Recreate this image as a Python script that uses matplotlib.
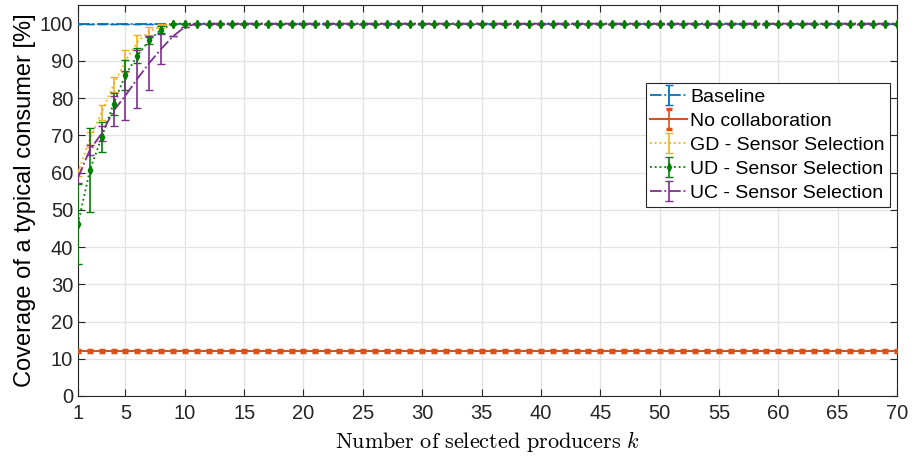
import matplotlib.pyplot as plt
import numpy as np

plt.rcParams['font.family'] = ['Liberation Sans', 'DejaVu Sans']
plt.rcParams['mathtext.fontset'] = 'cm'

k = np.arange(1, 71)

baseline = [100.0] * 70
no_collab = [12.0] * 70
no_collab_err = [0.3] * 70

gd_mean = [60.0, 69.0, 76.2, 83.6, 90.0, 95.0, 98.0, 99.3] + [100.0] * 62
gd_err = [1.0, 2.0, 2.0, 2.0, 3.0, 2.0, 1.0, 0.5] + [0.0] * 62

ud_mean = [46.2, 60.6, 69.5, 78.5, 86.2, 91.4, 95.5, 98.4] + [100.0] * 62
ud_err = [10.8, 11.3, 4.0, 3.0, 4.0, 2.0, 1.0, 1.0] + [0.0] * 62

uc_mean = [58.6, 66.1, 70.5, 76.6, 80.7, 85.2, 89.4, 93.2, 96.6, 99.1] + [100.0] * 60
uc_err = [1.3, 1.3, 2.0, 4.0, 6.5, 7.8, 7.3, 4.0, 0.0, 0.0] + [0.0] * 60

fig = plt.figure(figsize=(9.14, 4.59), dpi=100)
ax = fig.add_axes([0.0853, 0.1373, 0.8961, 0.8517])

ax.errorbar(k, baseline, yerr=np.zeros(70), color='#0072BD', ls='-.', lw=1.3,
            capsize=3, label='Baseline', zorder=3)
ax.errorbar(k, no_collab, yerr=no_collab_err, color='#D95319', ls='-', lw=1.5,
            capsize=2, capthick=2.5, elinewidth=1.2, label='No collaboration',
            zorder=3)
ax.errorbar(k, gd_mean, yerr=gd_err, color='#EDB120', ls=':', lw=1.3,
            capsize=3, elinewidth=1.2, label='GD - Sensor Selection', zorder=4)
ax.errorbar(k, ud_mean, yerr=ud_err, color='#008000', ls=':', lw=1.3,
            marker='d', ms=4, capsize=3, elinewidth=1.2,
            label='UD - Sensor Selection', zorder=5)
ax.errorbar(k, uc_mean, yerr=uc_err, color='#7E2F8E', ls='-.', lw=1.3,
            capsize=3, elinewidth=1.2, label='UC - Sensor Selection', zorder=6)
# keep the UD diamonds visible above the UC line
ax.plot(k, ud_mean, ls='none', marker='d', ms=4, color='#008000', zorder=7)

ax.set_xlim(1, 70)
ax.set_ylim(0, 105)
ax.set_xticks([1] + list(range(5, 71, 5)))
ax.set_yticks(range(0, 101, 10))
ax.tick_params(direction='in', top=True, right=True, labelsize=14.5,
               colors='#262626', length=5)
ax.tick_params(axis='x', pad=6)
ax.grid(True, color='#e3e3e3', lw=0.9)
ax.set_axisbelow(True)
for s in ax.spines.values():
    s.set_color('#262626')

ax.set_ylabel('Coverage of a typical consumer [%]', fontsize=17, labelpad=3)
ax.set_xlabel(r'$\mathrm{Number\ of\ selected\ producers}\ k$', fontsize=16,
              labelpad=4)

handles, labels = ax.get_legend_handles_labels()
leg = ax.legend(handles, labels,
                loc='upper right', bbox_to_anchor=(0.991, 0.80), fontsize=14,
                fancybox=False, framealpha=1, edgecolor='#262626',
                handlelength=1.9, handletextpad=0.15, borderpad=0.25,
                labelspacing=0.33, borderaxespad=0)
leg.get_frame().set_linewidth(0.8)

fig.savefig('out.png', dpi=100)
